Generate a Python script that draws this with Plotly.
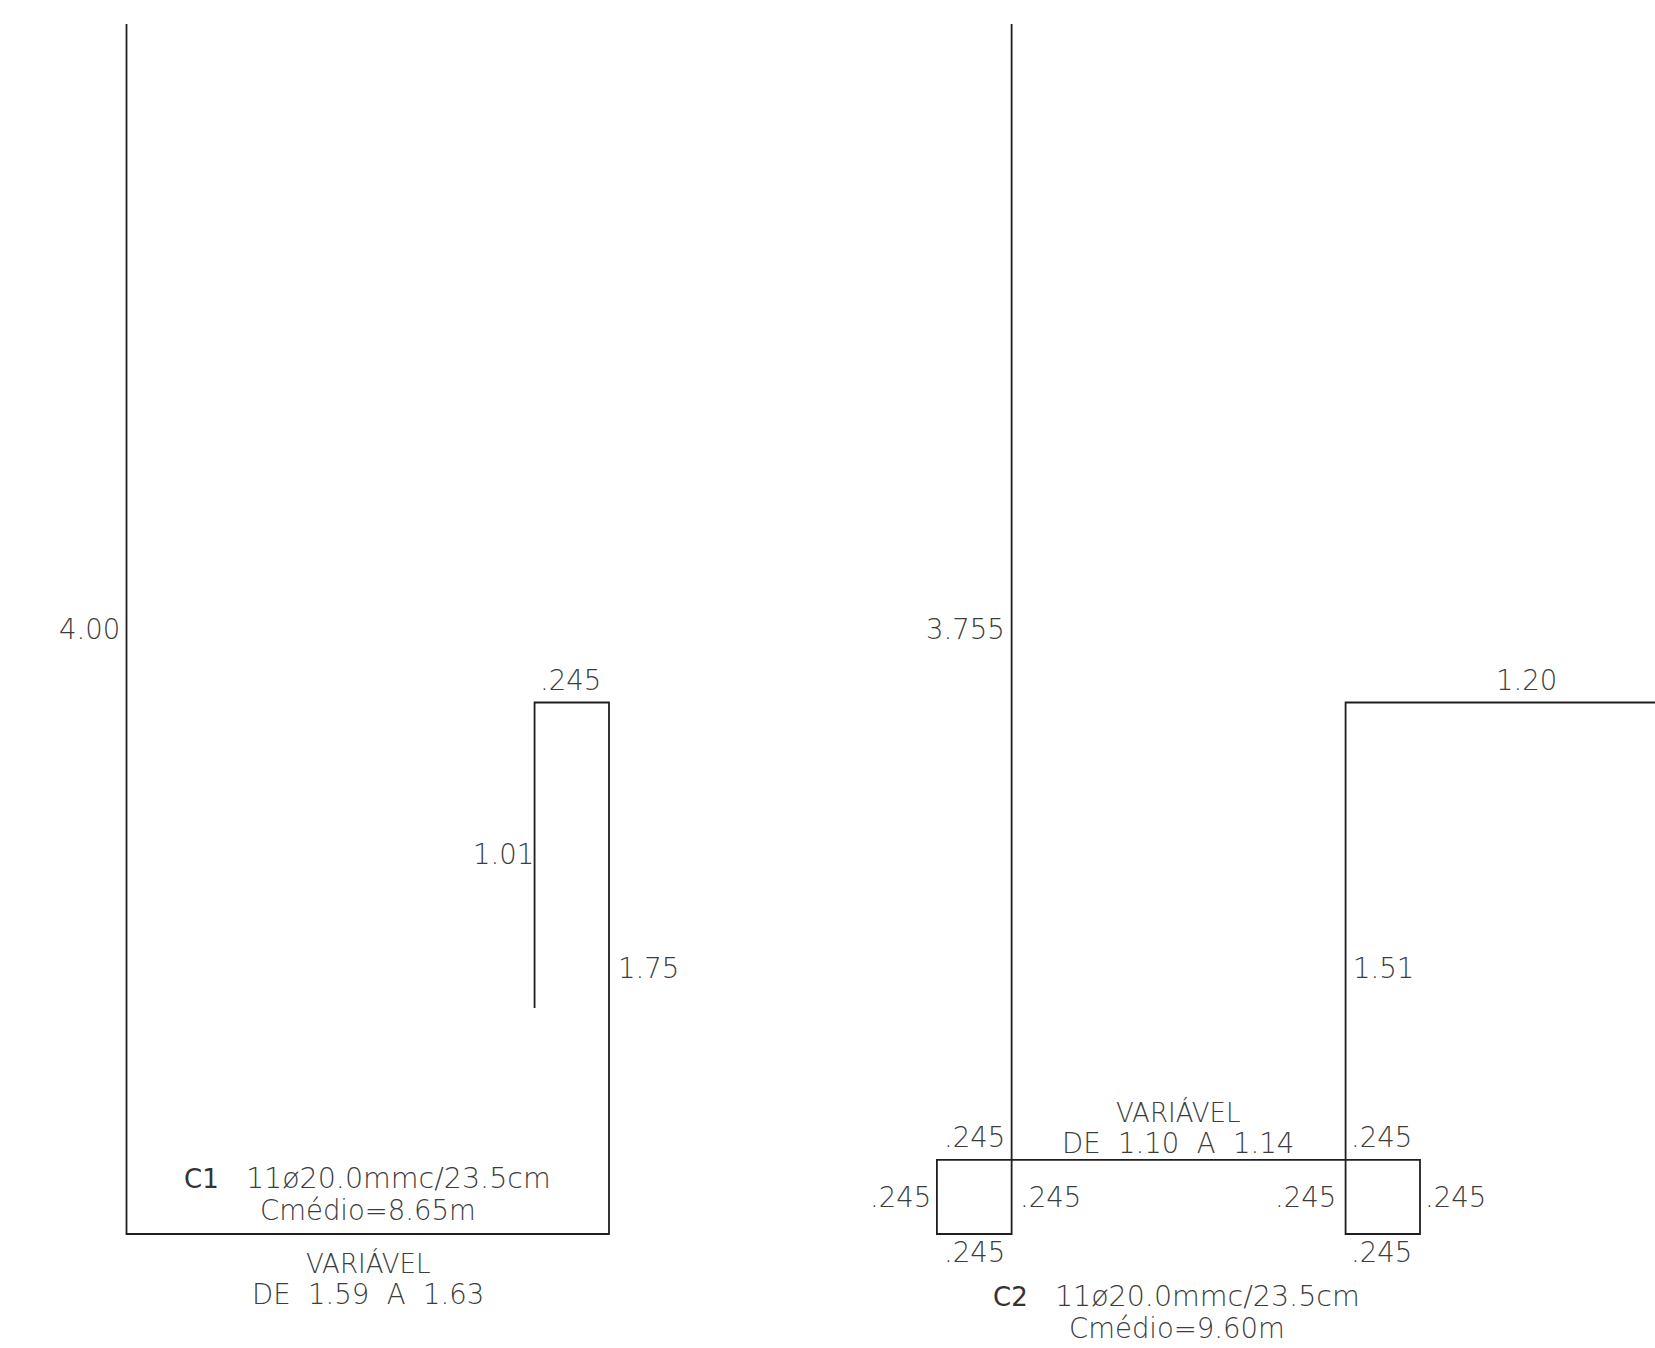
import plotly.graph_objects as go

# Bar-bending shapes, lengths in metres
c1_x = [0, 0, 1.595, 1.595, 1.349, 1.349]
c1_y = [4.00, 0, 0, 1.757, 1.757, 0.747]
c2_x = [2.926, 2.926, 2.679, 2.679, 4.276, 4.276, 4.030, 4.030, 5.23]
c2_y = [4.00, 0, 0, 0.245, 0.245, 0, 0, 1.757, 1.757]

NB = "\u00a0"
label_text = [
    "4.00", ".245", "1.01", "1.75",
    f"C1{NB*3}11ø20.0mmc/23.5cm", "Cmédio=8.65m", "VARIÁVEL", f"DE{NB*2}1.59{NB*2}A{NB*2}1.63",
    "3.755", "1.20", "1.51", "VARIÁVEL", f"DE{NB*2}1.10{NB*2}A{NB*2}1.14",
    ".245", ".245", ".245", ".245", ".245", ".245", ".245", ".245",
    f"C2{NB*3}11ø20.0mmc/23.5cm", "Cmédio=9.60m",
]
label_x = [-0.121, 1.469, 1.246, 1.724, 0.798, 0.798, 0.798, 0.798,
           2.775, 4.627, 4.157, 3.476, 3.476,
           2.803, 4.150, 2.560, 3.053, 3.899, 4.392, 2.803, 4.150,
           3.470, 3.473]
label_y = [2.0, 1.831, 1.256, 0.879, 0.185, 0.079, -0.096, -0.198,
           2.0, 1.831, 0.879, 0.403, 0.301,
           0.321, 0.321, 0.122, 0.122, 0.122, 0.122, -0.06, -0.06,
           -0.208, -0.311]

W, H = 1655, 1348
SCALE = 302.5  # pixels per metre
X0, Y0 = 126.5, 1234.0

fig = go.Figure()
for xs, ys, name in [(c1_x, c1_y, "C1"), (c2_x, c2_y, "C2")]:
    fig.add_trace(go.Scatter(x=xs, y=ys, mode="lines", name=name,
                             line=dict(color="#1f1f1f", width=1.8), hoverinfo="skip"))


def label_style(t):
    if t.startswith("C1") or t.startswith("C2"):
        return 28.5, f'<span style="font-weight:400;font-size:26px;color:#333333">{t[:2]}</span>{t[2:]}'
    if t == "VARIÁVEL":
        return 26, t
    return 27.5, t


for t, x, y in zip(label_text, label_x, label_y):
    size, shown = label_style(t)
    fig.add_annotation(x=x, y=y, text=shown, showarrow=False, xanchor="center", yanchor="middle",
                       font=dict(family="DejaVu Sans", size=size, color="#3c3c3c", weight=200))

fig.update_layout(
    width=W, height=H, margin=dict(l=0, r=0, t=0, b=0),
    paper_bgcolor="white", plot_bgcolor="white", showlegend=False,
    xaxis=dict(range=[-X0 / SCALE, (W - X0) / SCALE], visible=False, fixedrange=True),
    yaxis=dict(range=[-(H - Y0) / SCALE, Y0 / SCALE], visible=False, fixedrange=True),
)
fig.write_html("out.html", config={"displayModeBar": False},
               post_script="document.body.style.margin='0';")
